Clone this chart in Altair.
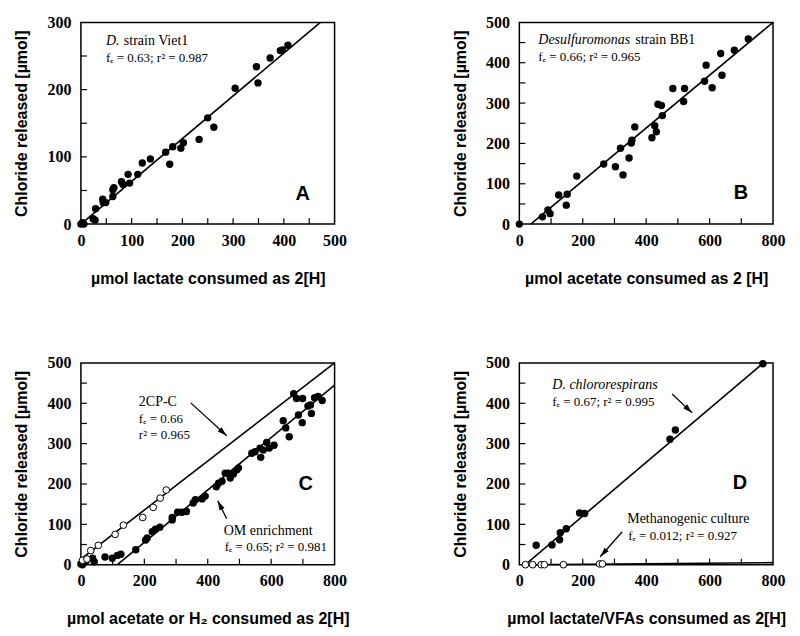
import math
import altair as alt
import pandas as pd

W, H = 254, 202
TICK_PX = 6

# ---------------- data ----------------
# Panel A: D. strain Viet1
a_x = [0, 3, 6, 24, 28, 29, 43, 44, 49, 63, 63, 65, 80, 83, 93, 96, 112, 121, 137, 167, 175, 181, 197, 202, 233, 250, 262, 304, 346, 349, 373, 393, 397, 408]
a_y = [0, 2, 0, 8, 6, 23, 37, 32, 32, 41, 51, 54, 63, 59, 74, 61, 74, 91, 97, 107, 89, 115, 113, 121, 126, 158, 144, 202, 234, 210, 247, 258, 259, 266]
a_line_x = [0, 472]
a_line_y = [0, 300]

# Panel B: Desulfuromonas strain BB1
b_x = [0, 73, 90, 97, 124, 148, 151, 181, 266, 303, 319, 327, 346, 353, 355, 364, 418, 427, 432, 437, 448, 451, 484, 518, 521, 584, 589, 608, 635, 639, 678, 722]
b_y = [0, 18, 35, 26, 72, 47, 74, 119, 149, 142, 188, 122, 164, 201, 208, 241, 214, 244, 229, 297, 294, 269, 336, 304, 336, 354, 394, 338, 423, 369, 431, 459]
b_line_x = [36, 800]
b_line_y = [0, 500]

# Panel C: OM enrichment (filled) and 2CP-C (open)
c_x = [0, 5, 16, 37, 42, 76, 99, 115, 126, 173, 204, 209, 225, 235, 249, 288, 288, 305, 319, 333, 354, 361, 382, 392, 427, 434, 445, 455, 465, 471, 481, 492, 497, 539, 549, 565, 567, 575, 586, 594, 609, 638, 646, 657, 671, 680, 699, 686, 698, 716, 724, 737, 748, 761, 727]
c_y = [2, 0, 8, 16, 7, 19, 16, 23, 26, 37, 61, 66, 82, 88, 93, 111, 117, 130, 130, 132, 153, 161, 163, 170, 193, 202, 207, 227, 227, 215, 225, 235, 240, 276, 280, 289, 266, 284, 303, 289, 296, 357, 339, 317, 424, 412, 412, 371, 352, 393, 396, 414, 417, 407, 375]
c_line_x = [115, 800]
c_line_y = [0, 445]
cc_x = [5, 19, 31, 55, 108, 134, 195, 228, 250, 269]
cc_y = [11, 14, 35, 48, 75, 98, 117, 142, 165, 185]
cc_line_x = [0, 800]
cc_line_y = [14, 500]

# Panel D: D. chlororespirans (filled) and methanogenic culture (open)
d_x = [53, 103, 127, 129, 148, 190, 206, 475, 492, 768]
d_y = [48, 49, 62, 79, 89, 128, 127, 311, 334, 498]
d_line_x = [19, 770]
d_line_y = [0, 500]
dm_x = [19, 42, 69, 79, 139, 253, 262]
dm_y = [0, 0, 0, 0, 0, 2, 2]
dm_line_x = [20, 800]
dm_line_y = [0, 5]

# axis labels and minor tick positions
a_xlabels = [0, 100, 200, 300, 400, 500]
a_xticks = [50, 100, 150, 200, 250, 300, 350, 400, 450]
a_ylabels = [0, 100, 200, 300]
a_yticks = [50, 100, 150, 200, 250]
w_xlabels = [0, 200, 400, 600, 800]
w_xticks = [100, 200, 300, 400, 500, 600, 700]
w_ylabels = [0, 100, 200, 300, 400, 500]
w_yticks = [50, 100, 150, 200, 250, 300, 350, 400, 450]

SERIF = "Liberation Serif"
SANS = "Liberation Sans"
ARROW_HEAD = "M0,0L0.7,2.4L-0.7,2.4Z"


def one():
    return pd.DataFrame({"k": [0]})


def text(s, px, py, size=13, style="normal"):
    return alt.Chart(pd.DataFrame({"t": [s]})).mark_text(
        align="left", baseline="alphabetic", font=SERIF, fontSize=size,
        fontStyle=style, color="black").encode(
        x=alt.value(px), y=alt.value(py), text="t:N")


def letter(s, px, py):
    return alt.Chart(pd.DataFrame({"t": [s]})).mark_text(
        align="center", baseline="middle", font=SANS, fontSize=20,
        fontWeight="bold", color="black").encode(
        x=alt.value(px), y=alt.value(py), text="t:N")


def arrow(x1, y1, x2, y2):
    ang = math.degrees(math.atan2(x2 - x1, -(y2 - y1))) % 360
    rule = alt.Chart(one()).mark_rule(color="black", strokeWidth=1.3).encode(
        x=alt.value(x1), y=alt.value(y1), x2=alt.value(x2), y2=alt.value(y2))
    head = alt.Chart(one()).mark_point(
        shape=ARROW_HEAD, filled=True, color="black", opacity=1,
        size=64, angle=ang, strokeWidth=0).encode(x=alt.value(x2), y=alt.value(y2))
    return [rule, head]


def panel(xdom, ydom, xlabels, xticks, ylabels, yticks, xtitle,
          filled, opened, lines, extras):
    xs = alt.Scale(domain=xdom, nice=False, zero=False)
    ys = alt.Scale(domain=ydom, nice=False, zero=False)
    common = dict(domain=False, grid=False, labelFlush=False, ticks=False,
                  labelFont=SERIF, labelFontWeight="bold", labelFontSize=16,
                  labelColor="black", titleFont=SANS, titleFontWeight="bold",
                  titleFontSize=16, titleColor="black")
    xaxis = alt.Axis(values=xlabels, title=xtitle, labelPadding=8,
                     titlePadding=22, **common)
    yaxis = alt.Axis(values=ylabels, title="Chloride released [µmol]",
                     labelPadding=10, titlePadding=17, **common)

    def X(f):
        return alt.X(f, scale=xs, axis=xaxis)

    def Y(f):
        return alt.Y(f, scale=ys, axis=yaxis)

    # tick length converted from pixels to data units (a style, not data)
    tlx = TICK_PX * (xdom[1] - xdom[0]) / W
    tly = TICK_PX * (ydom[1] - ydom[0]) / H

    layers = []
    for px_, py_ in filled:
        layers.append(alt.Chart(pd.DataFrame({"x": px_, "y": py_})).mark_circle(
            color="black", opacity=1, size=55).encode(x=X("x:Q"), y=Y("y:Q")))
    for lx, ly in lines:
        layers.append(alt.Chart(pd.DataFrame({"x": lx, "y": ly})).mark_line(
            color="black", strokeWidth=1.6).encode(x=X("x:Q"), y=Y("y:Q")))
    for px_, py_ in opened:
        layers.append(alt.Chart(pd.DataFrame({"x": px_, "y": py_})).mark_point(
            shape="circle", filled=True, fill="white", stroke="black",
            strokeWidth=1, opacity=1, size=45).encode(x=X("x:Q"), y=Y("y:Q")))
    # inward ticks along the bottom edge
    xt = pd.DataFrame({"x": xticks, "y": [ydom[0]] * len(xticks),
                       "y2": [ydom[0] + tly] * len(xticks)})
    layers.append(alt.Chart(xt).mark_rule(color="black", strokeWidth=1.2).encode(
        x=X("x:Q"), y=Y("y:Q"), y2="y2:Q"))
    # inward ticks along the left edge
    yt = pd.DataFrame({"y": yticks, "x": [xdom[0]] * len(yticks),
                       "x2": [xdom[0] + tlx] * len(yticks)})
    layers.append(alt.Chart(yt).mark_rule(color="black", strokeWidth=1.2).encode(
        y=Y("y:Q"), x=X("x:Q"), x2="x2:Q"))
    layers.extend(extras)
    return alt.layer(*layers).properties(width=W, height=H)


pA = panel([0, 500], [0, 300], a_xlabels, a_xticks, a_ylabels, a_yticks,
           "µmol lactate consumed as 2[H]",
           [(a_x, a_y)], [], [(a_line_x, a_line_y)],
           [text("D.", 25, 23, 14, "italic"), text("strain Viet1", 43, 23, 14),
            text("fₑ = 0.63;  r² = 0.987", 25, 40, 13), letter("A", 222, 172)])

pB = panel([0, 800], [0, 500], w_xlabels, w_xticks, w_ylabels, w_yticks,
           "µmol acetate consumed as 2 [H]",
           [(b_x, b_y)], [], [(b_line_x, b_line_y)],
           [text("Desulfuromonas", 19, 22, 14, "italic"),
            text("strain BB1", 116, 22, 14),
            text("fₑ = 0.66;  r² = 0.965", 19, 39, 13), letter("B", 222, 171)])

pC = panel([0, 800], [0, 500], w_xlabels, w_xticks, w_ylabels, w_yticks,
           "µmol acetate or H₂ consumed as 2[H]",
           [(c_x, c_y)], [(cc_x, cc_y)],
           [(cc_line_x, cc_line_y), (c_line_x, c_line_y)],
           [text("2CP-C", 58, 43, 14), text("fₑ = 0.66", 58, 60, 13),
            text("r² = 0.965", 58, 76, 13),
            *arrow(110, 40, 146, 73),
            text("OM enrichment", 143, 172, 14),
            text("fₑ = 0.65;  r² = 0.981", 144, 188, 13),
            *arrow(146, 156, 137, 138),
            letter("C", 225, 121)])

pD = panel([0, 800], [0, 500], w_xlabels, w_xticks, w_ylabels, w_yticks,
           "µmol lactate/VFAs consumed as 2[H]",
           [(d_x, d_y)], [(dm_x, dm_y)],
           [(d_line_x, d_line_y), (dm_line_x, dm_line_y)],
           [text("D. chlororespirans", 33, 26, 14, "italic"),
            text("fₑ = 0.67;  r² = 0.995", 33, 43, 13),
            *arrow(153, 31, 173, 50),
            text("Methanogenic culture", 108, 160, 14),
            text("fₑ = 0.012;  r² = 0.927", 109, 177, 13),
            *arrow(103, 169, 81, 194),
            letter("D", 221, 120)])

chart = alt.concat(
    pA, pB, pC, pD, columns=2,
    spacing=alt.RowColnumber(row=139, column=185), bounds="flush"
).configure_view(
    stroke="black", strokeWidth=1.5
)

chart.save("out.html", embed_options={"renderer": "svg", "actions": False})
